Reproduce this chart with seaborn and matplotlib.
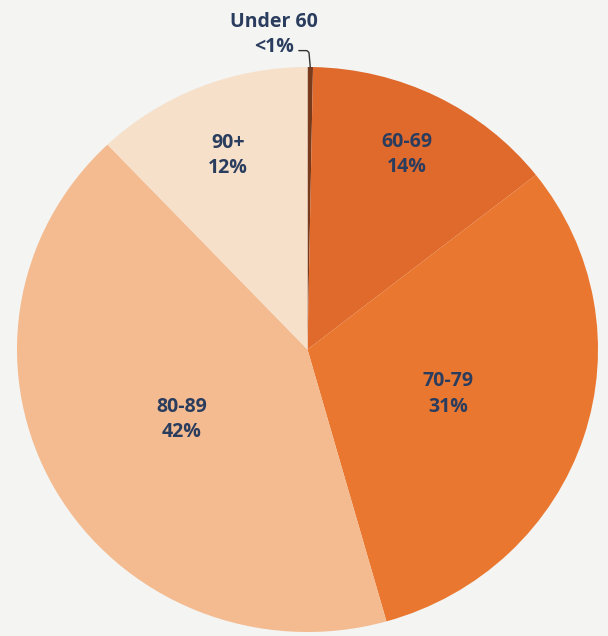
import matplotlib
matplotlib.use("Agg")
import matplotlib.pyplot as plt
import seaborn as sns
import numpy as np

# age group shares, clockwise from 12 o'clock
groups = ["Under 60", "60-69", "70-79", "80-89", "90+"]
shares = [0.3, 14, 31, 42, 12]
pct_labels = ["<1%", "14%", "31%", "42%", "12%"]

colors = ["#7a3b1c", "#e0692c", "#ea772f", "#f3bb8f", "#f6e0ca"]
label_dist = [None, 0.77, 0.51, 0.50, 0.74]
text_color = "#2b3d5e"

sns.set_style("white")
plt.rcParams['font.family'] = ['Open Sans', 'DejaVu Sans']

fig = plt.figure(figsize=(6.08, 6.36), dpi=100)
fig.patch.set_facecolor("#f4f4f3")
ax = fig.add_axes([17 / 608, 4 / 636, 581 / 608, 565 / 636])
ax.set_facecolor("none")

wedges, _ = ax.pie(shares, colors=colors, startangle=90, counterclock=False,
                   radius=1, wedgeprops=dict(linewidth=0))
ax.set_aspect("auto")
ax.set_xlim(-1, 1)
ax.set_ylim(-1, 1)
ax.axis("off")

font = dict(fontsize=14, fontweight="bold", color=text_color, linespacing=1.35)

for w, g, p, d in zip(wedges, groups, pct_labels, label_dist):
    if d is None:
        continue
    mid = np.deg2rad((w.theta1 + w.theta2) / 2)
    ax.text(d * np.cos(mid), d * np.sin(mid), f"{g}\n{p}", ha="center", va="center", **font)

# small slice gets an outside label with a leader line
w0 = wedges[0]
mid0 = np.deg2rad((w0.theta1 + w0.theta2) / 2)
ax.text(-0.115, 1.115, f"{groups[0]}\n{pct_labels[0]}", ha="center", va="center",
        clip_on=False, **font)
ax.annotate("", xy=(np.cos(mid0), np.sin(mid0)), xytext=(-0.03, 1.058),
            annotation_clip=False,
            arrowprops=dict(arrowstyle="-", color="#333333", lw=1,
                            shrinkA=0, shrinkB=0,
                            connectionstyle="angle,angleA=0,angleB=95,rad=3"))

fig.savefig("out.png", dpi=100, facecolor=fig.get_facecolor())
